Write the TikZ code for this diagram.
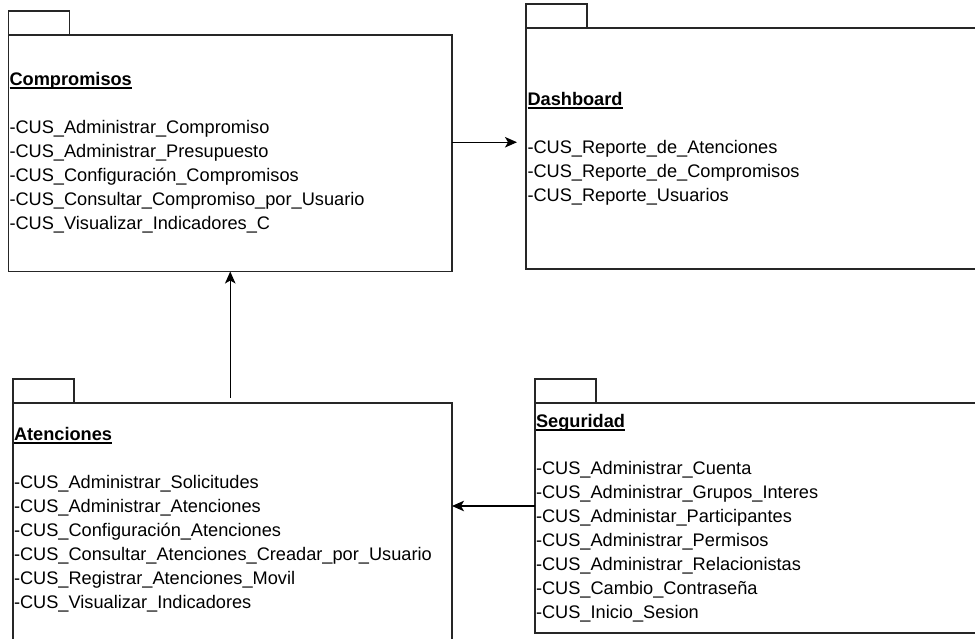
\documentclass[tikz,border=0pt]{standalone}
\usepackage{fontspec}
\setmainfont{Liberation Sans}
\usetikzlibrary{arrows.meta}

% bold, underlined package name
\newsavebox\pkgnamebox
\newcommand\pkgname[1]{\sbox\pkgnamebox{\bfseries #1}\rlap{\rule[-3.8pt]{\wd\pkgnamebox}{1.5pt}}\usebox\pkgnamebox}

\tikzset{
  pkgbody/.style={draw=black!85, line width=1.3pt, fill=white, anchor=north west,
    inner sep=0pt, outer sep=0pt},
  pkgtab/.style={draw=black!85, line width=1.3pt, fill=white, anchor=south west,
    inner sep=0pt, outer sep=0pt, minimum width=61pt, minimum height=24pt},
  pkgtext/.style={anchor=north west, align=left, inner sep=0pt, outer sep=0pt,
    font=\fontsize{18.2}{24}\selectfont},
  flow/.style={draw=black, line width=1.3pt, -{Stealth[length=12pt,width=10.5pt,inset=3pt]}}
}

\begin{document}
\begin{tikzpicture}[x=1pt,y=1pt]
\useasboundingbox (0,0) rectangle (975,638);
\clip (0,0) rectangle (975,638);

% Compromisos
\node[pkgbody, minimum width=443.5pt, minimum height=236.5pt] (compB) at (8.5,603) {};
\node[pkgtab] (compT) at (compB.north west) {};
\node[pkgtext] (compL) at ([xshift=1pt,yshift=-37pt]compB.north west) {%
  \pkgname{Compromisos}\\[24pt]
  -CUS\_Administrar\_Compromiso\\
  -CUS\_Administrar\_Presupuesto\\
  -CUS\_Configuración\_Compromisos\\
  -CUS\_Consultar\_Compromiso\_por\_Usuario\\
  -CUS\_Visualizar\_Indicadores\_C};

% Dashboard
\node[pkgbody, minimum width=459pt, minimum height=241pt] (dashB) at (526,610) {};
\node[pkgtab] (dashT) at (dashB.north west) {};
\node[pkgtext] (dashL) at ([xshift=1.5pt,yshift=-64pt]dashB.north west) {%
  \pkgname{Dashboard}\\[24pt]
  -CUS\_Reporte\_de\_Atenciones\\
  -CUS\_Reporte\_de\_Compromisos\\
  -CUS\_Reporte\_Usuarios};

% Atenciones
\node[pkgbody, minimum width=439pt, minimum height=242pt] (atB) at (13,235) {};
\node[pkgtab] (atT) at (atB.north west) {};
\node[pkgtext] (atL) at ([xshift=1pt,yshift=-24pt]atB.north west) {%
  \pkgname{Atenciones}\\[24pt]
  -CUS\_Administrar\_Solicitudes\\
  -CUS\_Administrar\_Atenciones\\
  -CUS\_Configuración\_Atenciones\\
  -CUS\_Consultar\_Atenciones\_Creadar\_por\_Usuario\\
  -CUS\_Registrar\_Atenciones\_Movil\\
  -CUS\_Visualizar\_Indicadores};

% Seguridad
\node[pkgbody, minimum width=450pt, minimum height=230pt] (segB) at (535,235) {};
\node[pkgtab] (segT) at (segB.north west) {};
\node[pkgtext] (segL) at ([xshift=1pt,yshift=-11pt]segB.north west) {%
  \pkgname{Seguridad}\\[23pt]
  -CUS\_Administrar\_Cuenta\\
  -CUS\_Administrar\_Grupos\_Interes\\
  -CUS\_Administar\_Participantes\\
  -CUS\_Administrar\_Permisos\\
  -CUS\_Administrar\_Relacionistas\\
  -CUS\_Cambio\_Contraseña\\
  -CUS\_Inicio\_Sesion};

% dependencies
\coordinate (cdStart) at ([yshift=11pt]compB.east);
\coordinate (cdEnd) at ([xshift=-9pt]cdStart -| dashB.west);
\draw[flow] (cdStart) -- (cdEnd);

\coordinate (acBase) at (compB.south |- atB.north);
\draw[flow] ([yshift=5pt]acBase) -- (compB.south);

\coordinate (saStart) at ([yshift=12pt]segB.west);
\draw[flow] (saStart) -- (saStart -| atB.east);
\end{tikzpicture}
\end{document}
